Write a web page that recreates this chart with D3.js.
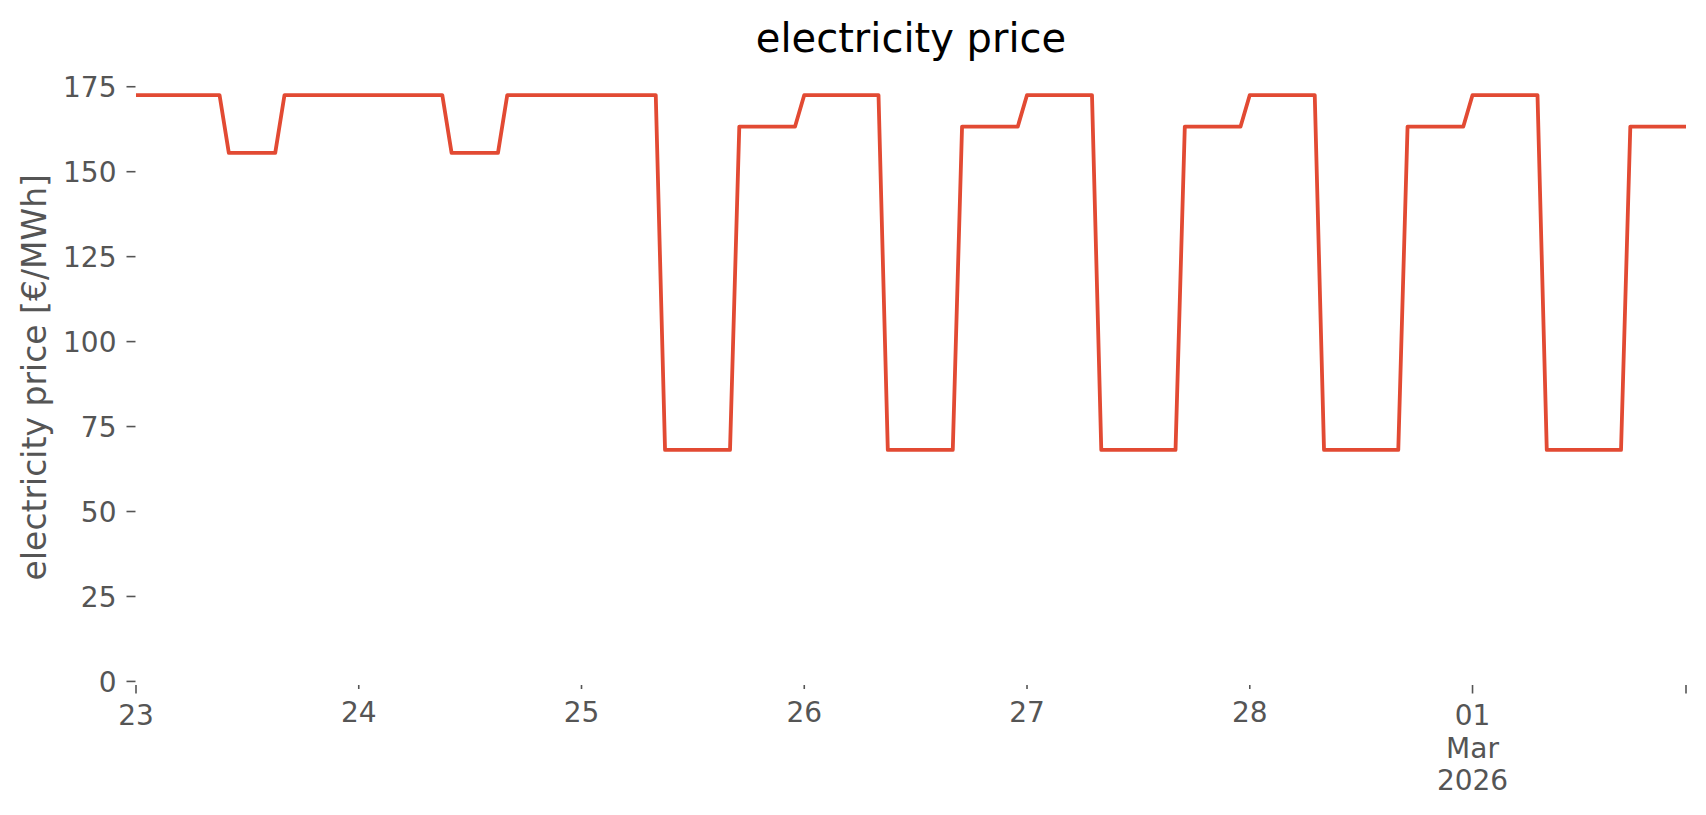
<!DOCTYPE html>
<html>
<head>
<meta charset="utf-8">
<script src="https://cdn.jsdelivr.net/npm/d3@7"></script>
<style>
  body { margin: 0; background: #fff; }
  text { font-family: "DejaVu Sans", sans-serif; }
</style>
</head>
<body>
<svg id="chart" width="1706" height="815"></svg>
<script>
// hourly prices in EUR/MWh, one array per day (00:00 .. 23:00)
const feb23 = [172.4,172.4,172.4,172.4,172.4,172.4,172.4,172.4,172.4,172.4,
               155.4,155.4,155.4,155.4,155.4,155.4,
               172.4,172.4,172.4,172.4,172.4,172.4,172.4,172.4];
const feb24 = [172.4,172.4,172.4,172.4,172.4,172.4,172.4,172.4,172.4,172.4,
               155.4,155.4,155.4,155.4,155.4,155.4,
               172.4,172.4,172.4,172.4,172.4,172.4,172.4,172.4];
const feb25 = [172.4,172.4,172.4,172.4,172.4,172.4,172.4,172.4,172.4,
               68.0,68.0,68.0,68.0,68.0,68.0,68.0,68.0,
               163.1,163.1,163.1,163.1,163.1,163.1,163.1];
const feb26 = [172.4,172.4,172.4,172.4,172.4,172.4,172.4,172.4,172.4,
               68.0,68.0,68.0,68.0,68.0,68.0,68.0,68.0,
               163.1,163.1,163.1,163.1,163.1,163.1,163.1];
const feb27 = [172.4,172.4,172.4,172.4,172.4,172.4,172.4,172.4,
               68.0,68.0,68.0,68.0,68.0,68.0,68.0,68.0,68.0,
               163.1,163.1,163.1,163.1,163.1,163.1,163.1];
const feb28 = [172.4,172.4,172.4,172.4,172.4,172.4,172.4,172.4,
               68.0,68.0,68.0,68.0,68.0,68.0,68.0,68.0,68.0,
               163.1,163.1,163.1,163.1,163.1,163.1,163.1];
const mar01 = [172.4,172.4,172.4,172.4,172.4,172.4,172.4,172.4,
               68.0,68.0,68.0,68.0,68.0,68.0,68.0,68.0,68.0,
               163.1,163.1,163.1,163.1,163.1,163.1,163.1];

const days = [
  { date: [2026, 1, 23], label: ['23'], major: true, values: feb23 },
  { date: [2026, 1, 24], label: ['24'], major: false, values: feb24 },
  { date: [2026, 1, 25], label: ['25'], major: false, values: feb25 },
  { date: [2026, 1, 26], label: ['26'], major: false, values: feb26 },
  { date: [2026, 1, 27], label: ['27'], major: false, values: feb27 },
  { date: [2026, 1, 28], label: ['28'], major: false, values: feb28 },
  { date: [2026, 2, 1], label: ['01', 'Mar', '2026'], major: true, values: mar01 }
];

const yTicks = [0, 25, 50, 75, 100, 125, 150, 175];

const GREY = '#555555';
const RED = '#E24A33';

// flatten into hourly points
let series = [];
days.forEach(d => {
  d.values.forEach((v, h) => {
    series.push({ t: new Date(Date.UTC(d.date[0], d.date[1], d.date[2], h)), v: v });
  });
});

const svg = d3.select('#chart');
const plotLeft = 136, plotRight = 1686, plotTop = 77.4, plotBottom = 685;

const x = d3.scaleUtc()
  .domain(d3.extent(series, d => d.t))
  .range([plotLeft, plotRight]);

const y = d3.scaleLinear()
  .domain([-1.2, 177.6])
  .range([plotBottom, plotTop]);

// title
svg.append('text')
  .attr('x', (plotLeft + plotRight) / 2)
  .attr('y', 52)
  .attr('text-anchor', 'middle')
  .attr('font-size', 40)
  .attr('fill', '#000')
  .text('electricity price');

// y axis
const yAxis = svg.append('g')
  .attr('transform', `translate(${plotLeft - 0.5},0)`)
  .call(d3.axisLeft(y).tickValues(yTicks).tickSize(9).tickPadding(10));
yAxis.select('.domain').remove();
yAxis.selectAll('line').attr('stroke', GREY).attr('stroke-width', 1.6);
yAxis.selectAll('text')
  .attr('fill', GREY)
  .attr('font-size', 28)
  .attr('font-family', '"DejaVu Sans", sans-serif')
  .attr('dy', '0.36em');

svg.append('text')
  .attr('transform', `translate(34,${(plotTop + plotBottom) / 2 - 4}) rotate(-90)`)
  .attr('text-anchor', 'middle')
  .attr('dominant-baseline', 'central')
  .attr('font-size', 33)
  .attr('fill', GREY)
  .text('electricity price [€/MWh]');

// x axis ticks
const xTicks = days.map(d => ({ t: new Date(Date.UTC(d.date[0], d.date[1], d.date[2])), label: d.label, major: d.major }));
xTicks.push({ t: x.domain()[1], label: [], major: true });

const xg = svg.append('g').attr('class', 'x-axis');
const tk = xg.selectAll('g.tick')
  .data(xTicks)
  .join('g')
  .attr('class', 'tick')
  .attr('transform', d => `translate(${x(d.t)},0)`);

tk.append('line')
  .attr('y1', plotBottom)
  .attr('y2', d => plotBottom + (d.major ? 8.5 : 4))
  .attr('stroke', GREY)
  .attr('stroke-width', 1.6);

tk.append('text')
  .attr('text-anchor', 'middle')
  .attr('font-size', 28)
  .attr('fill', GREY)
  .selectAll('tspan')
  .data(d => d.label.map((s, i) => ({ s, i, major: d.major })))
  .join('tspan')
  .attr('x', 0)
  .attr('y', d => (d.major ? 725 : 722) + d.i * 32.5)
  .text(d => d.s);

// price line
const line = d3.line()
  .x(d => x(d.t))
  .y(d => y(d.v));

svg.append('path')
  .datum(series)
  .attr('fill', 'none')
  .attr('stroke', RED)
  .attr('stroke-width', 3.8)
  .attr('stroke-linejoin', 'round')
  .attr('stroke-linecap', 'butt')
  .attr('d', line);
</script>
</body>
</html>
